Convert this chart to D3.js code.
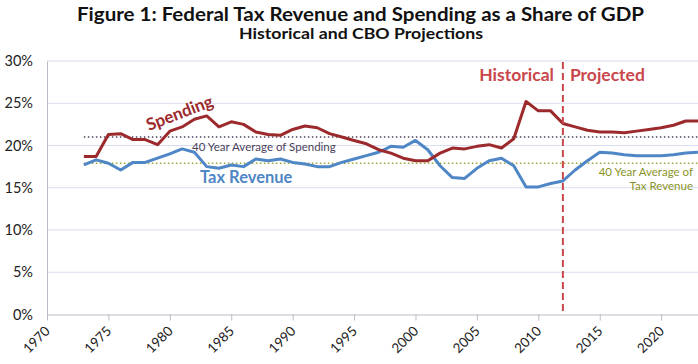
<!DOCTYPE html>
<html><head><meta charset="utf-8">
<script src="https://cdn.jsdelivr.net/npm/d3@7"></script>
<style>
body{margin:0;background:#fff;}
svg{display:block;font-family:Lato,"Open Sans",sans-serif;}
</style></head>
<body>
<svg id="c" width="698" height="364"></svg>
<script>
const years = d3.range(1973, 2024);
const spending = [18.7,18.7,21.3,21.4,20.7,20.7,20.1,21.7,22.2,23.1,23.5,22.2,22.8,22.5,21.6,21.3,21.2,21.9,22.3,22.1,21.4,21.0,20.6,20.2,19.5,19.1,18.5,18.2,18.2,19.1,19.7,19.6,19.9,20.1,19.7,20.8,25.2,24.1,24.1,22.6,22.2,21.8,21.6,21.6,21.5,21.7,21.9,22.1,22.4,22.9,22.9];
const revenue = [17.7,18.3,17.9,17.1,18.0,18.0,18.5,19.0,19.6,19.2,17.5,17.3,17.7,17.5,18.4,18.2,18.4,18.0,17.8,17.5,17.5,18.0,18.4,18.8,19.2,19.9,19.8,20.6,19.5,17.6,16.2,16.1,17.3,18.2,18.5,17.6,15.1,15.1,15.5,15.8,17.1,18.2,19.2,19.1,18.9,18.8,18.8,18.8,18.9,19.1,19.2];
const avgSpending = 21.0;
const avgRevenue = 17.9;
const projectionStart = 2012;
const yTicks = [0,5,10,15,20,25,30];
const xTicks = d3.range(1970, 2021, 5);

const svg = d3.select("#c");
const x = d3.scaleLinear().domain([1970, 2023]).range([47, 698]);
const y = d3.scaleLinear().domain([0, 30]).range([314.5, 61]);

// title
svg.append("text").attr("x",77).attr("y",21)
  .attr("font-size",19.5).attr("font-weight","bold").attr("fill","#111")
  .attr("textLength",567).attr("lengthAdjust","spacingAndGlyphs")
  .text("Figure 1: Federal Tax Revenue and Spending as a Share of GDP");
svg.append("text").attr("x",239).attr("y",39)
  .attr("font-size",15.5).attr("font-weight","bold").attr("fill","#111")
  .attr("textLength",244).attr("lengthAdjust","spacingAndGlyphs")
  .text("Historical and CBO Projections");

// grid
svg.append("g").selectAll("line").data(yTicks.filter(d=>d>0)).join("line")
  .attr("x1",x(1970)).attr("x2",698).attr("y1",d=>y(d)).attr("y2",d=>y(d))
  .attr("stroke","#d8def0").attr("stroke-width",1.2);

// y axis
const ya = svg.append("g").attr("transform",`translate(${x(1970)},0)`)
  .call(d3.axisLeft(y).tickValues(yTicks).tickFormat(d=>d+"%").tickSize(0).tickPadding(14));
ya.select(".domain").attr("stroke","#b8bcc8");
ya.selectAll("text").attr("font-size",14.5).attr("fill","#222").attr("font-family","Lato,sans-serif");

// x axis
const xa = svg.append("g").attr("transform",`translate(0,${y(0)})`)
  .call(d3.axisBottom(x).tickValues(xTicks).tickFormat(d3.format("d")).tickSize(6).tickSizeOuter(0));
xa.select(".domain").attr("stroke","#b8bcc8").attr("stroke-width",1.2);
xa.selectAll(".tick line").attr("stroke","#b8bcc8");
xa.selectAll("text").attr("font-size",13.5).attr("fill","#222").attr("font-family","Lato,sans-serif")
  .attr("text-anchor","end").attr("transform","translate(0,14) rotate(-45)").attr("dy","0.35em").attr("y",0);

// averages
svg.append("line").attr("x1",x(1973)).attr("x2",698).attr("y1",y(avgSpending)).attr("y2",y(avgSpending))
  .attr("stroke","#4b3f5e").attr("stroke-width",1.5).attr("stroke-dasharray","1.5,2.5");
svg.append("line").attr("x1",x(1973)).attr("x2",698).attr("y1",y(avgRevenue)).attr("y2",y(avgRevenue))
  .attr("stroke","#9aa530").attr("stroke-width",1.5).attr("stroke-dasharray","1.5,2.5");

// lines
const line = vals => d3.line().x((d,i)=>x(years[i])).y(d=>y(d))(vals);
svg.append("path").attr("d",line(revenue)).attr("fill","none").attr("stroke","#4f86c6").attr("stroke-width",3).attr("stroke-linejoin","round");
svg.append("path").attr("d",line(spending)).attr("fill","none").attr("stroke","#9c2a2c").attr("stroke-width",3).attr("stroke-linejoin","round");

// projection divider
svg.append("line").attr("x1",x(projectionStart)).attr("x2",x(projectionStart)).attr("y1",62).attr("y2",y(0))
  .attr("stroke","#c9474b").attr("stroke-width",2).attr("stroke-dasharray","7,4");
svg.append("text").attr("x",x(projectionStart)-9).attr("y",81).attr("text-anchor","end")
  .attr("font-size",17.5).attr("font-weight","bold").attr("fill","#c9474b").text("Historical");
svg.append("text").attr("x",x(projectionStart)+7).attr("y",81).attr("text-anchor","start")
  .attr("font-size",17.5).attr("font-weight","bold").attr("fill","#c9474b").text("Projected");

// labels
svg.append("text").attr("transform","translate(149,131) rotate(-21)")
  .attr("font-size",17).attr("font-weight","bold").attr("fill","#9c2a2c").text("Spending");
svg.append("text").attr("x",200).attr("y",183)
  .attr("font-size",16.5).attr("font-weight","bold").attr("fill","#4f86c6").text("Tax Revenue");
svg.append("text").attr("x",192).attr("y",151)
  .attr("font-size",11.5).attr("fill","#4b3f5e").text("40 Year Average of Spending");
svg.append("text").attr("x",693).attr("y",176).attr("text-anchor","end")
  .attr("font-size",11.5).attr("fill","#8a9428").text("40 Year Average of");
svg.append("text").attr("x",693).attr("y",190).attr("text-anchor","end")
  .attr("font-size",11.5).attr("fill","#8a9428").text("Tax Revenue");
</script>
</body></html>
